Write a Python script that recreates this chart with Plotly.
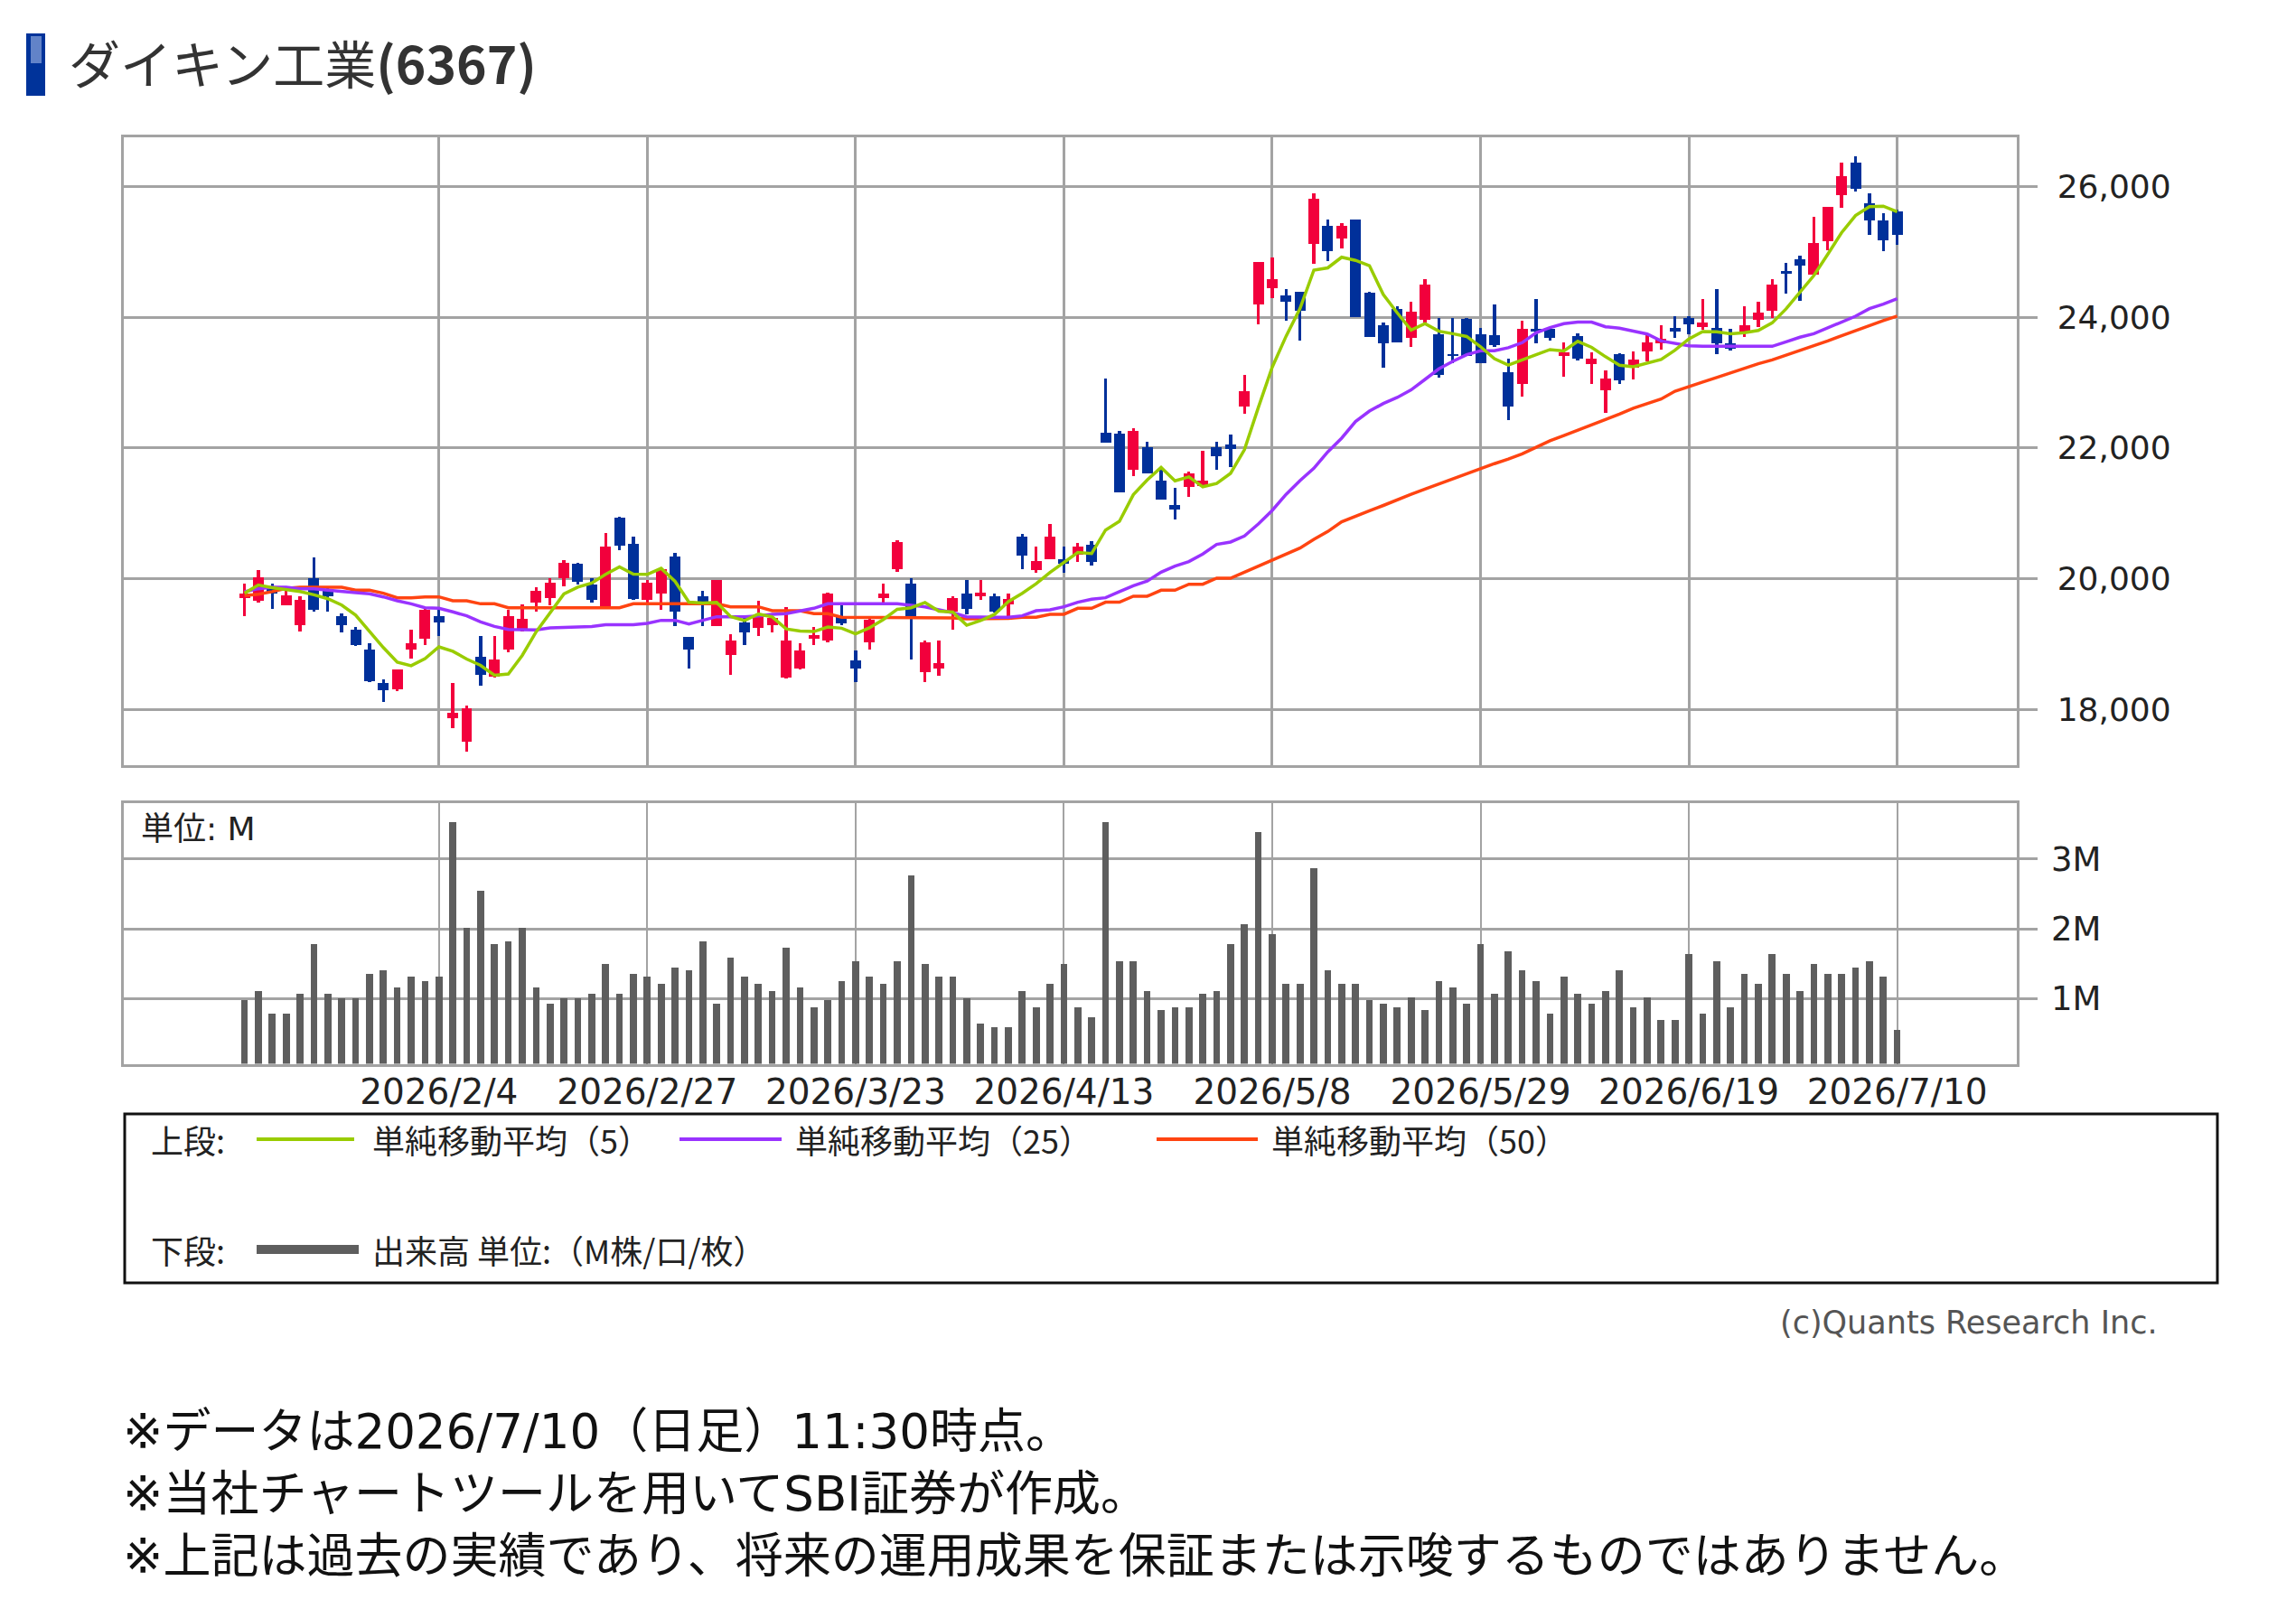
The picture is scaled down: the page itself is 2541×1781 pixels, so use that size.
import plotly.graph_objects as go
import pandas as pd

# ---------------- data ----------------
dates = [
    "2026/1/15", "2026/1/16", "2026/1/19", "2026/1/20", "2026/1/21", "2026/1/22", "2026/1/23",
    "2026/1/26", "2026/1/27", "2026/1/28", "2026/1/29", "2026/1/30", "2026/2/2", "2026/2/3",
    "2026/2/4", "2026/2/5", "2026/2/6", "2026/2/9", "2026/2/10", "2026/2/12", "2026/2/13",
    "2026/2/16", "2026/2/17", "2026/2/18", "2026/2/19", "2026/2/20", "2026/2/24", "2026/2/25",
    "2026/2/26", "2026/2/27", "2026/3/2", "2026/3/3", "2026/3/4", "2026/3/5", "2026/3/6",
    "2026/3/9", "2026/3/10", "2026/3/11", "2026/3/12", "2026/3/13", "2026/3/16", "2026/3/17",
    "2026/3/18", "2026/3/19", "2026/3/23", "2026/3/24", "2026/3/25", "2026/3/26", "2026/3/27",
    "2026/3/30", "2026/3/31", "2026/4/1", "2026/4/2", "2026/4/3", "2026/4/6", "2026/4/7",
    "2026/4/8", "2026/4/9", "2026/4/10", "2026/4/13", "2026/4/14", "2026/4/15", "2026/4/16",
    "2026/4/17", "2026/4/20", "2026/4/21", "2026/4/22", "2026/4/23", "2026/4/24", "2026/4/27",
    "2026/4/28", "2026/4/30", "2026/5/1", "2026/5/7", "2026/5/8", "2026/5/11", "2026/5/12",
    "2026/5/13", "2026/5/14", "2026/5/15", "2026/5/18", "2026/5/19", "2026/5/20", "2026/5/21",
    "2026/5/22", "2026/5/25", "2026/5/26", "2026/5/27", "2026/5/28", "2026/5/29", "2026/6/1",
    "2026/6/2", "2026/6/3", "2026/6/4", "2026/6/5", "2026/6/8", "2026/6/9", "2026/6/10",
    "2026/6/11", "2026/6/12", "2026/6/15", "2026/6/16", "2026/6/17", "2026/6/18", "2026/6/19",
    "2026/6/22", "2026/6/23", "2026/6/24", "2026/6/25", "2026/6/26", "2026/6/29", "2026/6/30",
    "2026/7/1", "2026/7/2", "2026/7/3", "2026/7/6", "2026/7/7", "2026/7/8", "2026/7/9", "2026/7/10",
]

opens = [
    19706, 19660, 19845, 19591, 19291, 20006, 19845, 19430, 19222, 18922,
    18401, 18309, 18922, 19084, 19430, 17862, 17506, 18807, 18507, 18922,
    19222, 19637, 19706, 20006, 20228, 19914, 19568, 20943, 20537, 19684,
    19776, 20338, 19107, 19730, 19278, 18830, 19338, 19245, 19292, 18484,
    18623, 19084, 19061, 19430, 18752, 19029, 19707, 20145, 19923, 18577,
    18632, 19499, 19776, 19739, 19739, 19615, 20652, 20136, 20306, 20306,
    20376, 20523, 22243, 22220, 21667, 22013, 21505, 21137, 21413, 21427,
    22013, 22059, 22636, 24203, 24457, 24341, 24397, 25126, 25402, 25218,
    25504, 24388, 23880, 24134, 23696, 23973, 23742, 23442, 23982, 23742,
    23733, 23166, 22981, 23834, 23834, 23419, 23719, 23290, 22889, 23442,
    23234, 23488, 23603, 23843, 23995, 23857, 23843, 23613, 23788, 23972,
    24101, 24719, 24895, 24664, 25171, 25872, 26371, 25748, 25494, 25633,
]
highs = [
    19923, 20131, 19923, 19822, 19729, 20329, 19868, 19476, 19268, 19015,
    18461, 18609, 19222, 19568, 19522, 18401, 18060, 19121, 19121, 19522,
    19614, 19877, 20016, 20283, 20240, 20006, 20698, 20950, 20652, 19983,
    20182, 20398, 19115, 19822, 19983, 19153, 19430, 19660, 19430, 19568,
    19015, 19259, 19785, 19591, 18909, 19407, 19923, 20597, 20016, 19061,
    19061, 19730, 19984, 19984, 19776, 19776, 20689, 20491, 20846, 20491,
    20551, 20580, 23074, 22267, 22313, 22105, 21667, 21400, 21644, 21967,
    22105, 22211, 23120, 24849, 24918, 24434, 24400, 25910, 25504, 25449,
    25504, 24390, 23927, 24180, 24249, 24595, 23996, 23996, 23990, 23844,
    24203, 23373, 23950, 24287, 23850, 23627, 23760, 23475, 23189, 23460,
    23480, 23742, 23880, 24028, 24028, 24286, 24434, 23825, 24180, 24240,
    24595, 24839, 24950, 25550, 25702, 26371, 26472, 25909, 25596, 25656,
]
lows = [
    19430, 19637, 19545, 19591, 19199, 19499, 19499, 19185, 18968, 18415,
    18115, 18277, 18784, 18982, 19130, 17709, 17354, 18369, 18484, 18876,
    19199, 19499, 19591, 19891, 19914, 19637, 19568, 20445, 19684, 19614,
    19522, 19278, 18623, 19278, 19278, 18531, 18992, 19130, 19185, 18475,
    18615, 18983, 19030, 19292, 18415, 18923, 19637, 20108, 18770, 18415,
    18521, 19222, 19453, 19684, 19480, 19430, 20145, 20099, 20306, 20099,
    20260, 20200, 22082, 21321, 21575, 21621, 21215, 20906, 21252, 21420,
    21667, 21713, 22534, 23903, 24295, 23949, 23650, 24826, 24872, 25057,
    24010, 23705, 23235, 23620, 23549, 23927, 23087, 23304, 23419, 23304,
    23558, 22428, 22797, 23604, 23650, 23097, 23350, 22981, 22543, 22990,
    23050, 23336, 23511, 23696, 23742, 23820, 23442, 23500, 23705, 23857,
    24000, 24364, 24258, 24650, 25033, 25679, 25932, 25273, 25024, 25116,
]
closes = [
    19776, 20029, 19776, 19752, 19683, 19522, 19729, 19291, 18982, 18429,
    18290, 18609, 19015, 19522, 19337, 17954, 18014, 18530, 18761, 19430,
    19384, 19822, 19937, 20246, 19960, 19684, 20491, 20514, 19693, 19937,
    20145, 19499, 18923, 19628, 19983, 19061, 19185, 19430, 19407, 19061,
    18909, 19140, 19776, 19314, 18632, 19370, 19776, 20560, 19430, 19029,
    18715, 19707, 19545, 19785, 19499, 19693, 20353, 20274, 20652, 20237,
    20491, 20260, 22082, 21321, 22267, 21621, 21215, 21067, 21621, 21505,
    21875, 21990, 22875, 24849, 24595, 24249, 24111, 25817, 25024, 25402,
    24010, 23705, 23604, 23627, 24088, 24503, 23120, 23410, 23419, 23304,
    23581, 22635, 23834, 23788, 23696, 23475, 23373, 23373, 23073, 23041,
    23363, 23626, 23673, 23788, 23903, 23926, 23603, 23520, 23880, 24074,
    24503, 24673, 24803, 25148, 25702, 26163, 25978, 25494, 25181, 25273,
]
volume_m = [
    0.98, 1.11, 0.78, 0.78, 1.07, 1.78, 1.07, 1.00, 1.00, 1.35,
    1.40, 1.16, 1.31, 1.25, 1.31, 3.53, 2.01, 2.54, 1.78, 1.82,
    2.01, 1.16, 0.93, 1.00, 1.00, 1.07, 1.49, 1.07, 1.35, 1.31,
    1.21, 1.45, 1.40, 1.82, 0.93, 1.59, 1.31, 1.21, 1.11, 1.73,
    1.16, 0.87, 0.98, 1.25, 1.54, 1.31, 1.21, 1.54, 2.77, 1.49,
    1.31, 1.31, 1.00, 0.64, 0.59, 0.59, 1.11, 0.87, 1.21, 1.49,
    0.87, 0.73, 3.53, 1.54, 1.54, 1.11, 0.83, 0.87, 0.87, 1.07,
    1.11, 1.78, 2.06, 3.39, 1.92, 1.21, 1.21, 2.87, 1.40, 1.21,
    1.21, 0.98, 0.93, 0.87, 1.02, 0.83, 1.25, 1.16, 0.93, 1.78,
    1.07, 1.68, 1.40, 1.25, 0.78, 1.31, 1.07, 0.93, 1.11, 1.40,
    0.87, 1.02, 0.69, 0.69, 1.64, 0.78, 1.54, 0.87, 1.35, 1.21,
    1.64, 1.35, 1.11, 1.49, 1.35, 1.35, 1.45, 1.54, 1.31, 0.55,
]
ma25 = [
    19799, 19845, 19868, 19868, 19845, 19845, 19822, 19799, 19785, 19766,
    19720, 19660, 19614, 19554, 19545, 19490, 19430, 19337, 19268, 19222,
    19213, 19213, 19245, 19254, 19254, 19265, 19292, 19292, 19292, 19315,
    19361, 19361, 19305, 19361, 19416, 19416, 19416, 19430, 19453, 19462,
    19499, 19545, 19614, 19614, 19614, 19614, 19614, 19614, 19591, 19568,
    19522, 19476, 19416, 19407, 19407, 19407, 19430, 19508, 19522, 19568,
    19638, 19684, 19707, 19799, 19891, 19961, 20099, 20191, 20260, 20376,
    20523, 20560, 20652, 20837, 21044, 21290, 21500, 21690, 21940, 22151,
    22405, 22566, 22681, 22774, 22889, 23050, 23212, 23327, 23429, 23489,
    23489, 23535, 23613, 23765, 23844, 23904, 23927, 23927, 23857, 23834,
    23790, 23745, 23640, 23603, 23566, 23557, 23557, 23557, 23557, 23557,
    23557, 23627, 23696, 23751, 23843, 23926, 24018, 24134, 24203, 24286,
]
ma50 = [
    19739, 19760, 19800, 19850, 19868, 19868, 19868, 19868, 19822, 19822,
    19776, 19706, 19706, 19720, 19720, 19660, 19660, 19614, 19614, 19554,
    19554, 19554, 19554, 19554, 19554, 19554, 19554, 19554, 19614, 19614,
    19614, 19614, 19614, 19614, 19614, 19568, 19568, 19568, 19508, 19508,
    19508, 19462, 19462, 19407, 19407, 19407, 19407, 19407, 19398, 19398,
    19398, 19398, 19385, 19385, 19385, 19390, 19407, 19407, 19453, 19453,
    19545, 19545, 19638, 19638, 19730, 19730, 19822, 19822, 19914, 19914,
    20006, 20006, 20099, 20191, 20283, 20376, 20468, 20600, 20721, 20870,
    20960, 21040, 21120, 21210, 21290, 21370, 21450, 21530, 21610, 21690,
    21760, 21830, 21910, 22010, 22110, 22190, 22270, 22350, 22440, 22520,
    22610, 22680, 22750, 22870, 22935, 23010, 23080, 23150, 23230, 23290,
    23350, 23420, 23490, 23560, 23640, 23720, 23800, 23880, 23950, 24020,
]

tick_labels = ["2026/2/4", "2026/2/27", "2026/3/23", "2026/4/13",
               "2026/5/8", "2026/5/29", "2026/6/19", "2026/7/10"]
price_ticks = [18000, 20000, 22000, 24000, 26000]
volume_ticks = [1, 2, 3]
volume_tick_text = ["1M", "2M", "3M"]

title_name = "ダイキン工業"
title_code = "(6367)"
ma_names = ["単純移動平均（5）", "単純移動平均（25）", "単純移動平均（50）"]
volume_name = "出来高 単位:（M株/口/枚）"
upper_label = "上段:"
lower_label = "下段:"
unit_label = "単位: M"
copyright_text = "(c)Quants Research Inc."
notes = [
    "※データは2026/7/10（日足）11:30時点。",
    "※当社チャートツールを用いてSBI証券が作成。",
    "※上記は過去の実績であり、将来の運用成果を保証または示唆するものではありません。",
]

# ---------------- styling ----------------
W, H = 2541, 1781
RED = "#F2003C"
BLUE = "#00309A"
GREEN = "#99CC00"
PURPLE = "#9933FF"
ORANGE = "#FF4411"
VOLC = "#5E5E5E"
GRID = "#A3A3A3"
JP = "Noto Sans CJK JP"
NUM = "DejaVu Sans"
MIX = "DejaVu Sans, Noto Sans CJK JP"


def px(x):
    return x / W


def py(y):
    return 1 - y / H


ma5 = pd.Series(closes).rolling(5, min_periods=1).mean().round(0).tolist()

colors = [RED if c >= o else BLUE for o, c in zip(opens, closes)]
body_base = [min(o, c) for o, c in zip(opens, closes)]
body_h = [max(abs(c - o), 18) for o, c in zip(opens, closes)]
wick_h = [h - l for h, l in zip(highs, lows)]

fig = go.Figure()

# wicks
fig.add_trace(go.Bar(x=dates, y=wick_h, base=lows, width=0.22,
                     marker=dict(color=colors, line=dict(width=0)),
                     xaxis="x", yaxis="y", hoverinfo="skip", showlegend=False))
# bodies
fig.add_trace(go.Bar(x=dates, y=body_h, base=body_base, width=0.78,
                     marker=dict(color=colors, line=dict(width=0)),
                     xaxis="x", yaxis="y", showlegend=False,
                     customdata=list(zip(opens, highs, lows, closes)),
                     hovertemplate="%{x}<br>O %{customdata[0]}<br>H %{customdata[1]}"
                                   "<br>L %{customdata[2]}<br>C %{customdata[3]}<extra></extra>"))

# moving averages
for vals, col, name in [(ma50, ORANGE, ma_names[2]), (ma25, PURPLE, ma_names[1]), (ma5, GREEN, ma_names[0])]:
    fig.add_trace(go.Scatter(x=dates, y=vals, mode="lines", name=name,
                             line=dict(color=col, width=3.5), xaxis="x", yaxis="y",
                             showlegend=False))

# volume
fig.add_trace(go.Bar(x=dates, y=volume_m, width=0.5, marker=dict(color=VOLC, line=dict(width=0)),
                     name=volume_name, xaxis="x2", yaxis="y2", showlegend=False))

xdom = [px(137), px(2231.5)]
xrange_ = [-8.69, 127.58]

axis_common = dict(showline=True, mirror=True, linecolor=GRID, linewidth=3,
                   zeroline=False, fixedrange=True)

fig.update_layout(
    width=W, height=H,
    margin=dict(l=0, r=0, t=0, b=0),
    paper_bgcolor="white", plot_bgcolor="white",
    barmode="overlay", bargap=0,
    showlegend=False,
    xaxis=dict(domain=xdom, type="category", range=xrange_, anchor="y",
               tickvals=tick_labels, showticklabels=False, ticks="",
               showgrid=True, gridcolor=GRID, gridwidth=3, **axis_common),
    yaxis=dict(domain=[py(847.3), py(151.7)], range=[17138, 26762], side="right",
               anchor="x", tickvals=price_ticks, tickformat=",d",
               ticks="outside", ticklen=20, tickwidth=3, tickcolor=GRID,
               ticklabelstandoff=15,
               tickfont=dict(family=NUM, size=36, color="#222222"),
               showgrid=True, gridcolor=GRID, gridwidth=3, **axis_common),
    xaxis2=dict(domain=xdom, type="category", range=xrange_, anchor="y2",
                tickvals=tick_labels, ticktext=tick_labels, ticks="",
                ticklabelstandoff=-5,
                tickfont=dict(family=NUM, size=39, color="#222222"),
                showgrid=True, gridcolor=GRID, gridwidth=2, **axis_common),
    yaxis2=dict(domain=[py(1177.5), py(889)], range=[0.065, 3.80], side="right",
                anchor="x2", tickvals=volume_ticks, ticktext=volume_tick_text,
                ticks="outside", ticklen=20, tickwidth=3, tickcolor=GRID,
                ticklabelstandoff=8,
                tickfont=dict(family=NUM, size=37, color="#222222"),
                showgrid=True, gridcolor=GRID, gridwidth=3, **axis_common),
)

shapes = []
annotations = []

# title marker
shapes.append(dict(type="rect", xref="paper", yref="paper", x0=px(29), x1=px(50),
                   y0=py(106), y1=py(37), fillcolor="#00339A", line=dict(width=0)))
shapes.append(dict(type="rect", xref="paper", yref="paper", x0=px(34), x1=px(46),
                   y0=py(70), y1=py(40), fillcolor="#6283C8", line=dict(width=0)))
annotations.append(dict(xref="paper", yref="paper", x=px(74), y=py(68), xanchor="left",
                        yanchor="middle", showarrow=False,
                        text=title_name + "<b>" + title_code + "</b>",
                        font=dict(family=JP, size=57, color="#333333")))

# volume unit label
annotations.append(dict(xref="paper", yref="paper", x=px(154), y=py(917), xanchor="left",
                        yanchor="middle", showarrow=False, text=unit_label,
                        font=dict(family=MIX, size=36, color="#222222")))

# legend box
shapes.append(dict(type="rect", xref="paper", yref="paper", x0=px(138), x1=px(2454),
                   y0=py(1420), y1=py(1233), line=dict(color="#111111", width=3),
                   fillcolor="rgba(0,0,0,0)"))
leg_font = dict(family=JP, size=36, color="#222222")
row1, row2 = 1261, 1383
annotations.append(dict(xref="paper", yref="paper", x=px(165), y=py(row1), xanchor="left",
                        yanchor="middle", showarrow=False, text=upper_label, font=leg_font))
annotations.append(dict(xref="paper", yref="paper", x=px(165), y=py(row2), xanchor="left",
                        yanchor="middle", showarrow=False, text=lower_label, font=leg_font))
legend_items = [(GREEN, ma_names[0], 284, 392, 410),
                (PURPLE, ma_names[1], 752, 865, 878),
                (ORANGE, ma_names[2], 1280, 1392, 1405)]
for col, name, lx0, lx1, tx in legend_items:
    shapes.append(dict(type="line", xref="paper", yref="paper", x0=px(lx0), x1=px(lx1),
                       y0=py(row1), y1=py(row1), line=dict(color=col, width=4)))
    annotations.append(dict(xref="paper", yref="paper", x=px(tx), y=py(row1), xanchor="left",
                            yanchor="middle", showarrow=False, text=name, font=leg_font))
shapes.append(dict(type="line", xref="paper", yref="paper", x0=px(284), x1=px(397),
                   y0=py(row2), y1=py(row2), line=dict(color=VOLC, width=10)))
annotations.append(dict(xref="paper", yref="paper", x=px(410), y=py(row2), xanchor="left",
                        yanchor="middle", showarrow=False, text=volume_name, font=leg_font))

# copyright
annotations.append(dict(xref="paper", yref="paper", x=px(2390), y=py(1464), xanchor="right",
                        yanchor="middle", showarrow=False, text=copyright_text,
                        font=dict(family=NUM, size=35, color="#555555")))

# footnotes (one block, three lines)
annotations.append(dict(xref="paper", yref="paper", x=px(134), y=py(1653), xanchor="left",
                        yanchor="middle", align="left", showarrow=False,
                        text="<br>".join(notes),
                        font=dict(family=MIX, size=53, color="#111111")))

fig.update_layout(shapes=shapes, annotations=annotations)

fig.write_html("out.html")
